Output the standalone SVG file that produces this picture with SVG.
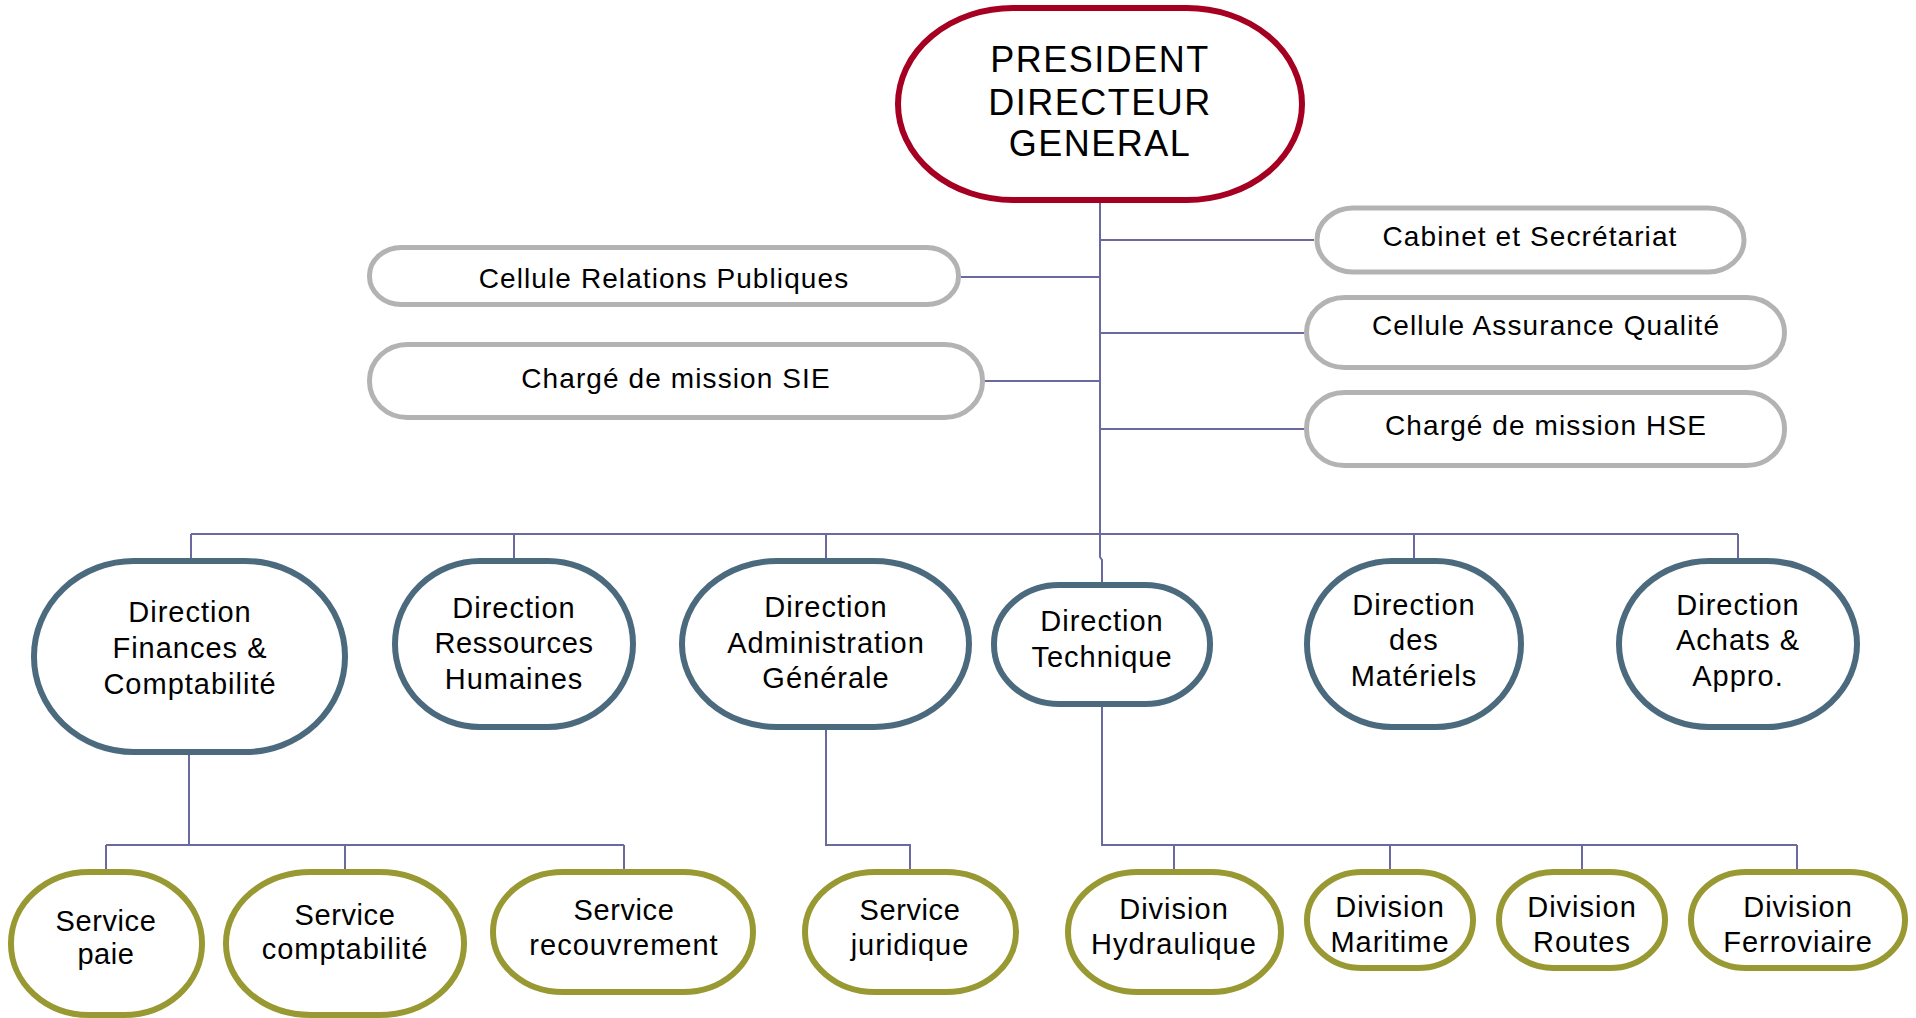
<svg xmlns="http://www.w3.org/2000/svg" width="1916" height="1018" viewBox="0 0 1916 1018">
<style>
text{font-family:"Liberation Sans",Arial,sans-serif;fill:#000;text-anchor:middle}
.pdg{fill:#fff;stroke:#a50021;stroke-width:6}
.side{fill:#fff;stroke:#b3b3b3;stroke-width:5}
.dir{fill:#fff;stroke:#4c6a7e;stroke-width:6}
.svc{fill:#fff;stroke:#999933;stroke-width:6}
.t0{font-size:36px;letter-spacing:1.5px}
.t1{font-size:28px;letter-spacing:1.1px}
.t2{font-size:29px;letter-spacing:1px}
.t3{font-size:29px;letter-spacing:0.6px}
#connectors path{fill:none;stroke:#6a6aa0;stroke-width:2}
</style>
<rect width="1916" height="1018" fill="#fff"/>
<g id="connectors">
<path d="M1100,203 V557 L1102,560 V583"/>
<path d="M1100,240 H1314 M1100,333 H1304 M1100,429 H1304"/>
<path d="M961,277 H1100 M985,381 H1100"/>
<path d="M191,534 H1738 M191,534 V558 M514,534 V558 M826,534 V558 M1414,534 V558 M1738,534 V558"/>
<path d="M189,755 V845 M106,845 H624 M106,845 V869 M345,845 V869 M624,845 V869"/>
<path d="M826,730 V845 H910 V869"/>
<path d="M1102,707 V845 H1797 M1174,845 V869 M1390,845 V869 M1582,845 V869 M1797,845 V869"/>
</g>
<g id="pdg">
<rect class="pdg" x="898" y="8" width="404" height="192" rx="115" ry="96"/>
<text class="t0" x="1100" y="72">PRESIDENT</text>
<text class="t0" x="1100" y="115">DIRECTEUR</text>
<text class="t0" x="1100" y="156">GENERAL</text>
</g>
<g id="cabinet">
<rect class="side" x="1317" y="208" width="427" height="64" rx="36" ry="32"/>
<text class="t1" x="1530" y="246">Cabinet et Secrétariat</text>
</g>
<g id="caq">
<rect class="side" x="1306.5" y="297.5" width="478" height="70" rx="38" ry="35"/>
<text class="t1" x="1546" y="335">Cellule Assurance Qualité</text>
</g>
<g id="hse">
<rect class="side" x="1306.5" y="392.5" width="478" height="73" rx="38" ry="36"/>
<text class="t1" x="1546" y="435">Chargé de mission HSE</text>
</g>
<g id="crp">
<rect class="side" x="369.5" y="247.5" width="589" height="57" rx="32" ry="28"/>
<text class="t1" x="664" y="288">Cellule Relations Publiques</text>
</g>
<g id="sie">
<rect class="side" x="369.5" y="344.5" width="613" height="73" rx="38" ry="36"/>
<text class="t1" x="676" y="388">Chargé de mission SIE</text>
</g>
<g id="dfc">
<rect class="dir" x="34" y="561" width="311" height="191" rx="100" ry="95"/>
<text class="t2" x="190" y="622">Direction</text>
<text class="t2" x="190" y="658">Finances &amp;</text>
<text class="t2" x="190" y="694">Comptabilité</text>
</g>
<g id="drh">
<rect class="dir" x="395" y="561" width="238" height="166" rx="85" ry="83"/>
<text class="t2" x="514" y="618">Direction</text>
<text class="t3" x="514" y="653">Ressources</text>
<text class="t2" x="514" y="689">Humaines</text>
</g>
<g id="dag">
<rect class="dir" x="682" y="561" width="287" height="166" rx="95" ry="83"/>
<text class="t2" x="826" y="617">Direction</text>
<text class="t2" x="826" y="653">Administration</text>
<text class="t2" x="826" y="688">Générale</text>
</g>
<g id="dt">
<rect class="dir" x="994" y="585" width="216" height="119" rx="65" ry="59"/>
<text class="t2" x="1102" y="631">Direction</text>
<text class="t2" x="1102" y="667">Technique</text>
</g>
<g id="dm">
<rect class="dir" x="1307" y="561" width="214" height="166" rx="85" ry="83"/>
<text class="t2" x="1414" y="615">Direction</text>
<text class="t2" x="1414" y="650">des</text>
<text class="t2" x="1414" y="686">Matériels</text>
</g>
<g id="daa">
<rect class="dir" x="1619" y="561" width="238" height="166" rx="90" ry="83"/>
<text class="t2" x="1738" y="615">Direction</text>
<text class="t2" x="1738" y="650">Achats &amp;</text>
<text class="t2" x="1738" y="686">Appro.</text>
</g>
<g id="paie">
<rect class="svc" x="11" y="872" width="191" height="143" rx="78" ry="71"/>
<text class="t3" x="106" y="931">Service</text>
<text class="t3" x="106" y="964">paie</text>
</g>
<g id="compta">
<rect class="svc" x="226" y="872" width="238" height="143" rx="85" ry="71"/>
<text class="t3" x="345" y="925">Service</text>
<text class="t2" x="345" y="959">comptabilité</text>
</g>
<g id="recouv">
<rect class="svc" x="493" y="872" width="260" height="120" rx="70" ry="60"/>
<text class="t3" x="624" y="920">Service</text>
<text class="t2" x="624" y="955">recouvrement</text>
</g>
<g id="jur">
<rect class="svc" x="805" y="872" width="211" height="120" rx="70" ry="60"/>
<text class="t3" x="910" y="920">Service</text>
<text class="t2" x="910" y="955">juridique</text>
</g>
<g id="hydro">
<rect class="svc" x="1068" y="872" width="213" height="120" rx="70" ry="60"/>
<text class="t2" x="1174" y="919">Division</text>
<text class="t2" x="1174" y="954">Hydraulique</text>
</g>
<g id="mar">
<rect class="svc" x="1307" y="872" width="166" height="96" rx="55" ry="48"/>
<text class="t2" x="1390" y="917">Division</text>
<text class="t2" x="1390" y="952">Maritime</text>
</g>
<g id="routes">
<rect class="svc" x="1499" y="872" width="166" height="96" rx="55" ry="48"/>
<text class="t2" x="1582" y="917">Division</text>
<text class="t2" x="1582" y="952">Routes</text>
</g>
<g id="ferro">
<rect class="svc" x="1691" y="872" width="214" height="96" rx="55" ry="48"/>
<text class="t2" x="1798" y="917">Division</text>
<text class="t2" x="1798" y="952">Ferroviaire</text>
</g>
</svg>
